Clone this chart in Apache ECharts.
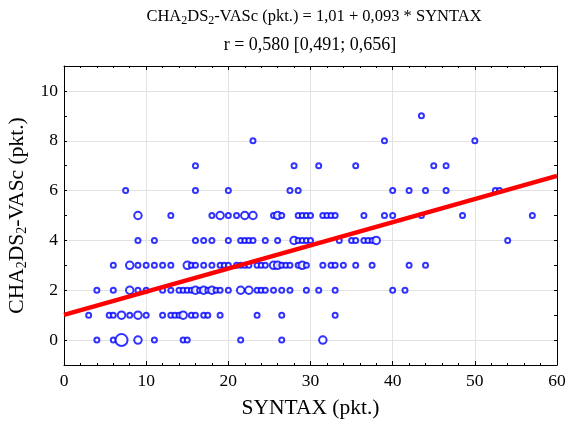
<!DOCTYPE html>
<html><head><meta charset="utf-8">
<script src="https://cdn.jsdelivr.net/npm/echarts@6/dist/echarts.min.js"></script>
<style>html,body{margin:0;padding:0;background:#fff}#c{width:566px;height:423px}</style>
</head><body><div id="c"></div>
<script>
// SYNTAX values (x) and number of patients (weight) for each CHA2DS2-VASc score
const syntaxAt0 = [4, 6, 7, 9, 11, 14.5, 15, 21.5, 26.5, 31.5];
const countAt0  = [1, 1, 5, 2, 1, 1, 1, 1, 1, 2];
const syntaxAt1 = [3, 5.5, 6, 7, 8, 9, 10, 12, 13, 13.5, 14, 14.5, 15.5, 16, 17, 17.5, 19, 23.5, 26.5, 33];
const countAt1  = [1, 1, 1, 2, 1, 2, 1, 1, 1, 1, 1, 2, 1, 1, 1, 1, 1, 1, 1, 1];
const syntaxAt2 = [4, 6, 8, 9, 10, 12, 13, 14, 14.5, 15, 15.5, 16, 16.5, 17, 17.5, 18, 18.5, 19, 20, 21.5, 22.5, 23.5, 24, 24.5, 25.5, 26.5, 27.5, 29.5, 31, 33, 40, 41.5];
const countAt2  = [1, 1, 2, 1, 1, 1, 1, 1, 1, 1, 1, 2, 1, 2, 1, 2, 1, 1, 1, 2, 2, 1, 1, 1, 1, 1, 1, 1, 1, 1, 1, 1];
const syntaxAt3 = [6, 8, 9, 10, 11, 12, 13, 15, 15.5, 16, 17, 18, 19, 19.5, 20, 21, 21.5, 22, 22.5, 23.5, 24, 24.5, 25.5, 26, 26.5, 27, 27.5, 28.5, 29, 29.5, 31.5, 32.5, 33, 34, 35.5, 37.5, 42, 44];
const countAt3  = [1, 2, 1, 1, 1, 1, 1, 2, 1, 1, 1, 1, 1, 1, 1, 1, 1, 1, 1, 1, 1, 1, 2, 2, 1, 1, 1, 1, 2, 1, 1, 1, 1, 1, 1, 1, 1, 1];
const syntaxAt4 = [9, 11, 16, 17, 18, 20, 21.5, 22, 22.5, 23, 24.5, 26, 28, 28.5, 29, 29.5, 30, 33.5, 35, 35.5, 36.5, 37, 37.5, 38, 54];
const countAt4  = [1, 1, 1, 1, 1, 1, 1, 1, 1, 1, 1, 1, 2, 1, 1, 1, 1, 1, 1, 1, 1, 1, 1, 2, 1];
const syntaxAt5 = [9, 13, 18, 19, 20, 21, 22, 23, 25.5, 26, 26.5, 28.5, 29, 29.5, 30, 31.5, 32, 32.5, 33, 36.5, 39, 40, 43.5, 48.5, 57];
const countAt5  = [2, 1, 1, 2, 1, 1, 2, 2, 1, 2, 1, 1, 1, 1, 1, 1, 1, 1, 1, 1, 1, 1, 1, 1, 1];
const syntaxAt6 = [7.5, 16, 20, 27.5, 28.5, 40, 42, 44, 46.5, 52.5, 53];
const countAt6  = [1, 1, 1, 1, 1, 1, 1, 1, 1, 1, 1];
const syntaxAt7 = [16, 28, 31, 35.5, 45, 46.5];
const countAt7  = [1, 1, 1, 1, 1, 1];
const syntaxAt8 = [23, 39, 50];
const countAt8  = [1, 1, 1];
const syntaxAt9 = [43.5];
const countAt9  = [1];

const chaScores = [0, 1, 2, 3, 4, 5, 6, 7, 8, 9];
const syntaxLists = [syntaxAt0, syntaxAt1, syntaxAt2, syntaxAt3, syntaxAt4, syntaxAt5, syntaxAt6, syntaxAt7, syntaxAt8, syntaxAt9];
const countLists = [countAt0, countAt1, countAt2, countAt3, countAt4, countAt5, countAt6, countAt7, countAt8, countAt9];

// regression: CHA2DS2-VASc = 1.01 + 0.093 * SYNTAX
const intercept = 1.01;
const slope = 0.093;
const lineXs = [0, 60];

const xTicks = [0, 10, 20, 30, 40, 50, 60];
const yTickLabels = [0, 2, 4, 6, 8, 10];

const points = [];
chaScores.forEach((c, i) => {
  syntaxLists[i].forEach((s, j) => points.push([s, c, countLists[i][j]]));
});
const fitLine = lineXs.map(x => [x, intercept + slope * x]);

const SERIF = '"Liberation Serif", "Times New Roman", serif';
const sizeMap = {1: 5, 2: 7.5, 3: 9, 4: 10.5, 5: 12};

const chart = echarts.init(document.getElementById('c'), null, {renderer: 'canvas'});
const gridColor = '#e2e2e2';
const baseX = {
  type: 'value', min: 0, max: 60, interval: 10,
  axisLine: {show: true, onZero: false, lineStyle: {color: '#000', width: 1}},
  axisTick: {show: true, inside: true, length: 4, lineStyle: {color: '#000'}},
  minorTick: {show: true, splitNumber: 5, length: 2, lineStyle: {color: '#000'}},
};
const baseY = {
  type: 'value', min: -1, max: 11, interval: 1,
  axisLine: {show: true, onZero: false, lineStyle: {color: '#000', width: 1}},
  axisTick: {show: true, inside: true, length: 3, lineStyle: {color: '#000'}},
};
chart.setOption({
  animation: false,
  backgroundColor: '#fff',
  grid: {left: 64, right: 9, top: 66, bottom: 58, containLabel: false, outerBoundsMode: 'none'},
  xAxis: [
    Object.assign({}, baseX, {
      position: 'bottom',
      splitLine: {show: true, lineStyle: {color: gridColor, width: 1}},
      axisLabel: {show: true, margin: 7, color: '#000', fontFamily: SERIF, fontSize: 17.5,
        formatter: v => xTicks.includes(v) ? String(v) : ''},
      name: 'SYNTAX (pkt.)', nameLocation: 'middle', nameGap: 32,
      nameTextStyle: {color: '#000', fontFamily: SERIF, fontSize: 21.5}
    }),
    Object.assign({}, baseX, {
      position: 'top', splitLine: {show: false}, axisLabel: {show: false}
    })
  ],
  yAxis: [
    Object.assign({}, baseY, {
      position: 'left',
      splitLine: {show: true, showMinLine: true, lineStyle: {color: ['rgba(0,0,0,0)', gridColor], width: 1}},
      axisLabel: {show: true, margin: 6, color: '#000', fontFamily: SERIF, fontSize: 17.5,
        formatter: v => yTickLabels.includes(v) ? String(v) : ''},
      name: 'CHA{sub|2}DS{sub|2}-VASc (pkt.)', nameLocation: 'middle', nameGap: 22, nameRotate: 90,
      nameTextStyle: {color: '#000', fontFamily: SERIF, fontSize: 21.5,
        rich: {sub: {fontFamily: SERIF, fontSize: 14, color: '#000', padding: [10, 0, 0, 0]}}}
    }),
    Object.assign({}, baseY, {
      position: 'right', splitLine: {show: false}, axisLabel: {show: false}
    })
  ],
  graphic: [
    {type: 'text', x: 314, y: 17, z: 10,
      style: {text: 'CHA{sub|2}DS{sub|2}-VASc (pkt.) = 1,01 + 0,093 * SYNTAX',
        font: '16.5px ' + SERIF, fill: '#000', align: 'center', verticalAlign: 'middle',
        rich: {sub: {font: '12px ' + SERIF, fill: '#000', padding: [8, 0, 0, 0]}}}},
    {type: 'text', x: 310, y: 45, z: 10,
      style: {text: 'r = 0,580 [0,491; 0,656]', font: '18px ' + SERIF, fill: '#000',
        align: 'center', verticalAlign: 'middle'}}
  ],
  series: [
    {
      type: 'scatter', xAxisIndex: 0, yAxisIndex: 0, data: points,
      symbol: 'emptyCircle',
      symbolSize: d => sizeMap[d[2]] || 5,
      itemStyle: {color: '#0000ff', borderColor: '#0000ff', borderWidth: 1},
      z: 2
    },
    {
      type: 'line', xAxisIndex: 0, yAxisIndex: 0, data: fitLine,
      showSymbol: false, symbol: 'none',
      lineStyle: {color: '#ff0000', width: 4.5}, z: 3
    }
  ]
});
</script>
</body></html>
